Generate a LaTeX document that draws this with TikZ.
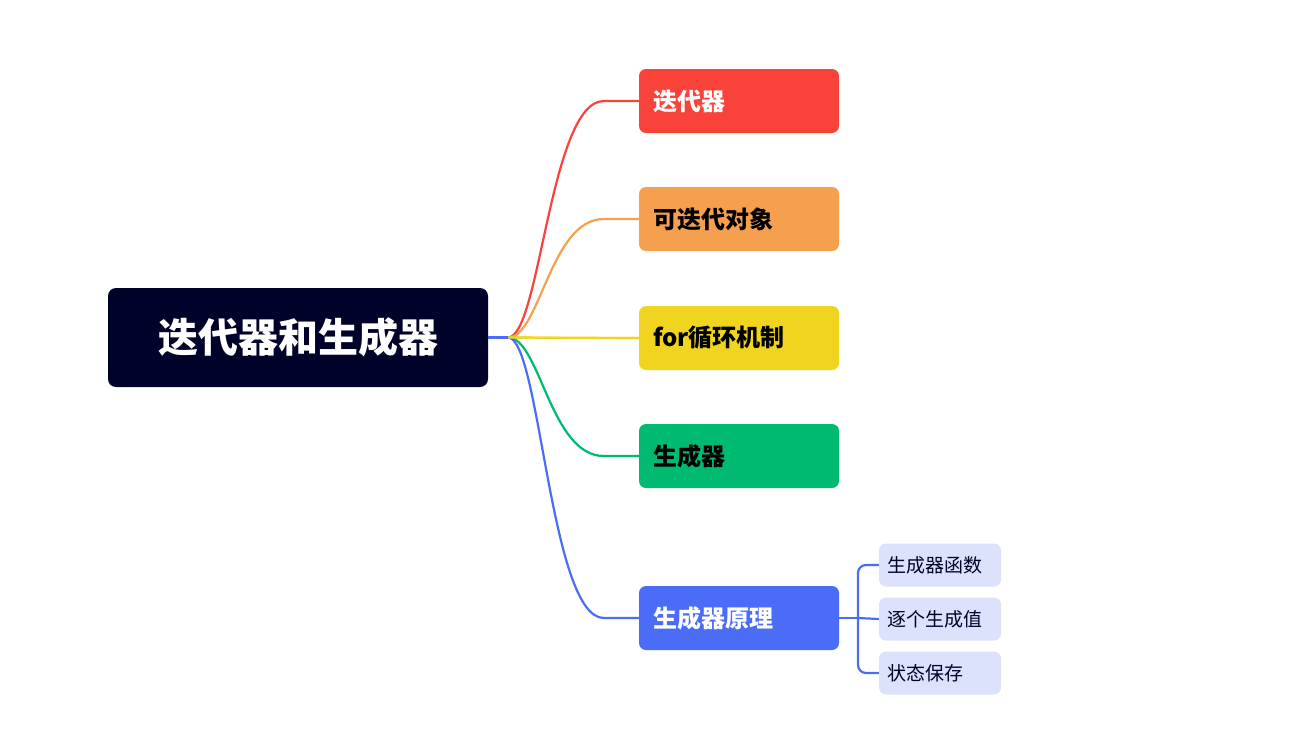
\documentclass[tikz,border=0pt]{standalone}
\usepackage{fontspec}
\setmainfont{Noto Sans CJK SC}
\begin{document}
\begin{tikzpicture}[x=1pt,y=-1pt,
  box/.style={rounded corners=7pt,minimum width=200pt,minimum height=64pt,text width=172pt,align=left,inner sep=0pt,font=\bfseries\fontsize{24}{28}\selectfont},
  sub/.style={rounded corners=7pt,fill=subc,minimum width=122pt,minimum height=43pt,text width=106pt,align=left,inner sep=0pt,text=rootc,font=\fontsize{19}{22}\selectfont},
  br/.style={line width=2.2pt}]
\definecolor{rootc}{HTML}{000229}
\definecolor{c1}{HTML}{F9423A}
\definecolor{c2}{HTML}{F5A04E}
\definecolor{c3}{HTML}{F0D420}
\definecolor{c4}{HTML}{00BA72}
\definecolor{c5}{HTML}{4A6CF7}
\definecolor{subc}{HTML}{DCE1FC}
\useasboundingbox (0,0) rectangle (1302,742);
\node[fill=rootc,rounded corners=8pt,minimum width=380pt,minimum height=99pt,text=white,font=\bfseries\fontsize{40}{46}\selectfont] (root) at (298,337.5) {迭代器和生成器};
\coordinate (hub) at (508,337.5);
\draw[br,c5] (root.east) -- (hub);
\node[box,fill=c1,text=white] (a) at (739,101) {迭代器};
\node[box,fill=c2,text=black] (b) at (739,219) {可迭代对象};
\node[box,fill=c3,text=black] (c) at (739,338) {for循环机制};
\node[box,fill=c4,text=black] (d) at (739,456) {生成器};
\node[box,fill=c5,text=white] (e) at (739,618) {生成器原理};
\foreach \n/\col in {a/c1,b/c2,c/c3,d/c4,e/c5}{
  \draw[br,\col] (hub) .. controls (540,337.5) and (550,0|-\n.west) .. ([xshift=-35pt]\n.west) -- (\n.west);
}
\draw[br,c3] (hub) -- (c.west);
\node[sub] (s1) at (940,565) {生成器函数};
\node[sub] (s2) at (940,619) {逐个生成值};
\node[sub] (s3) at (940,673) {状态保存};
\coordinate (j) at (858,618);
\draw[br,c5] (e.east) -- (j);
\draw[br,c5,rounded corners=8pt] (s1.west) -| (j) |- (s3.west);
\draw[br,c5] (j) -- (s2.west);
\end{tikzpicture}
\end{document}
